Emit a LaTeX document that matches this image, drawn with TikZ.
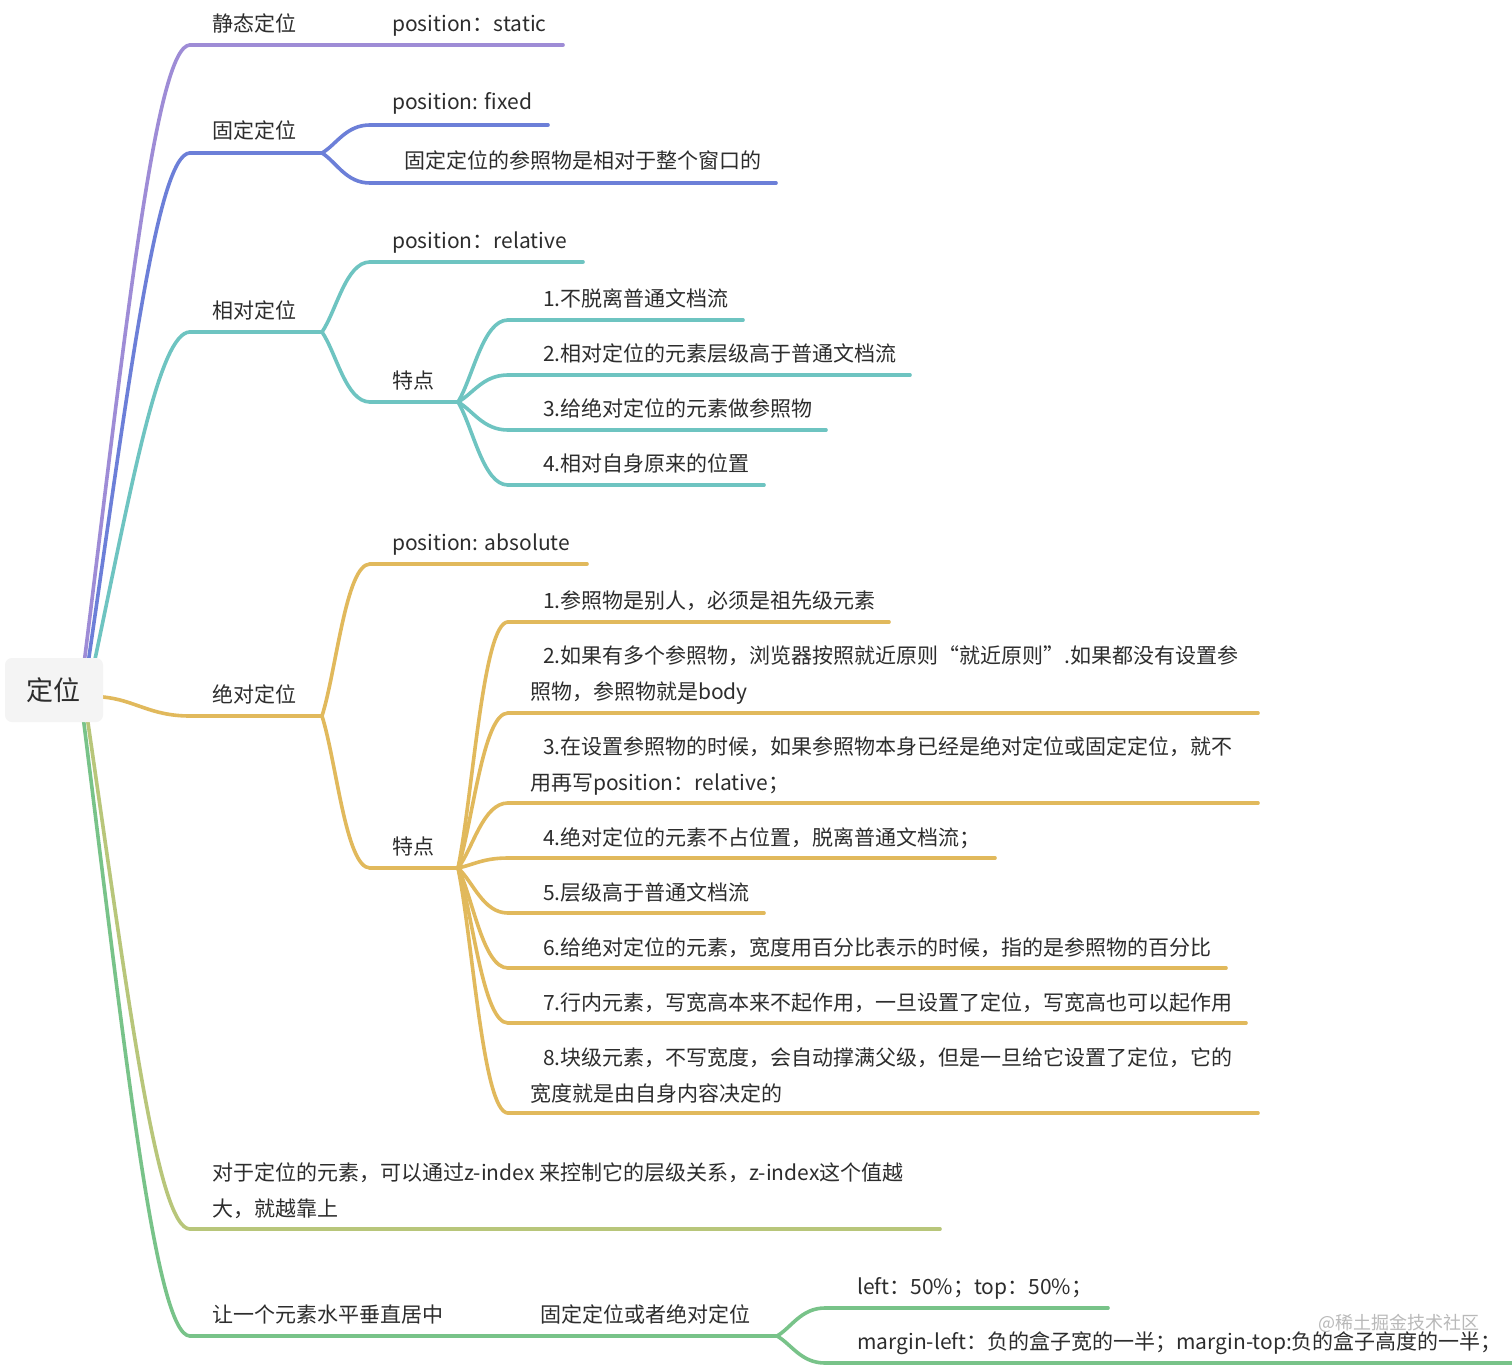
\documentclass[tikz,border=0pt]{standalone}
\usepackage{fontspec}
\setmainfont{Noto Sans CJK SC}
\usetikzlibrary{calc}
\definecolor{cPur}{RGB}{158,140,214}
\definecolor{cBlue}{RGB}{108,127,216}
\definecolor{cTeal}{RGB}{110,196,193}
\definecolor{cGold}{RGB}{225,185,92}
\definecolor{cOlive}{RGB}{184,198,122}
\definecolor{cGreen}{RGB}{120,195,137}
\definecolor{txt}{RGB}{45,45,45}
\definecolor{rootfill}{RGB}{244,244,244}
\definecolor{wmc}{RGB}{185,185,185}
\tikzset{
  branch/.style={line width=3.6pt, line cap=round},
  topic/.style={anchor=base west, inner sep=0pt, text=txt, font=\fontsize{21}{36}\selectfont, align=left},
  rootbox/.style={fill=rootfill, rounded corners=7pt, minimum width=98pt, minimum height=64pt, inner sep=0pt, text=txt, font=\fontsize{27}{30}\selectfont},
}
\newcommand{\mmul}[5]{%
  \coordinate (#1-l) at (#3,#5);
  \coordinate (#1-r) at (#4,#5);
  \draw[branch,#2] (#1-l) -- (#1-r);
}
\newcommand{\mmconn}[3]{%
  \draw[branch,#1] let \p1=(#2), \p2=(#3) in (\p1) .. controls ({\x1+0.3*(\x2-\x1)},{\y1+0.3*(\y2-\y1)}) and ({\x2-0.5*(\x2-\x1)},{\y2}) .. (\p2);
}
\newcommand{\mmtop}[3]{%
  \draw[branch,#1] let \p1=(#2), \p2=(#3) in (\p1) .. controls ({\x1+0.40*(\x2-\x1)},{\y1+0.55*(\y2-\y1)}) and ({\x2-0.32*(\x2-\x1)},{\y2}) .. (\p2);
}
\begin{document}
\begin{tikzpicture}[x=1pt,y=-1pt]
\useasboundingbox (0,0) rectangle (1512,1367);
\fill[white] (0,0) rectangle (1512,1367);

% root anchor coordinates
\coordinate (r1) at (84,664);
\coordinate (r2) at (88,664);
\coordinate (r3) at (94,664);
\coordinate (r4) at (103,697);
\coordinate (r5) at (87,716);
\coordinate (r6) at (83,716);

% underlines
\mmul{n1}{cPur}{190}{320}{45}
\mmul{n1a}{cPur}{370}{563}{45}
\mmul{n2}{cBlue}{190}{322}{153}
\mmul{n2a}{cBlue}{370}{548}{125}
\mmul{n2b}{cBlue}{370}{776}{183}
\mmul{n3}{cTeal}{190}{322}{332}
\mmul{n3a}{cTeal}{370}{583}{262}
\mmul{n3b}{cTeal}{370}{458}{402}
\mmul{n3b1}{cTeal}{508}{743}{320}
\mmul{n3b2}{cTeal}{508}{910}{375}
\mmul{n3b3}{cTeal}{508}{826}{430}
\mmul{n3b4}{cTeal}{508}{764}{485}
\mmul{n4}{cGold}{190}{322}{716}
\mmul{n4a}{cGold}{370}{587}{564}
\mmul{n4b}{cGold}{370}{458}{868}
\mmul{n4b1}{cGold}{508}{889}{622}
\mmul{n4b2}{cGold}{508}{1258}{713}
\mmul{n4b3}{cGold}{508}{1258}{803}
\mmul{n4b4}{cGold}{508}{995}{858}
\mmul{n4b5}{cGold}{508}{764}{913}
\mmul{n4b6}{cGold}{508}{1226}{968}
\mmul{n4b7}{cGold}{508}{1246}{1023}
\mmul{n4b8}{cGold}{508}{1258}{1113}
\mmul{n5}{cOlive}{190}{940}{1229}
\mmul{n6}{cGreen}{190}{520}{1336}
\mmul{n6a}{cGreen}{520}{777}{1336}
\mmul{n6a1}{cGreen}{825}{1108}{1308}
\mmul{n6a2}{cGreen}{825}{1530}{1363}

% top-level connectors
\mmtop{cPur}{r1}{n1-l}
\mmtop{cBlue}{r2}{n2-l}
\mmtop{cTeal}{r3}{n3-l}
\draw[branch,cGold] (r4) .. controls (135,700) and (150,716) .. (n4-l);
\mmtop{cOlive}{r5}{n5-l}
\mmtop{cGreen}{r6}{n6-l}

% second-level connectors
\draw[branch,cPur] (n1-r) -- (n1a-l);
\mmconn{cBlue}{n2-r}{n2a-l}
\mmconn{cBlue}{n2-r}{n2b-l}
\mmconn{cTeal}{n3-r}{n3a-l}
\mmconn{cTeal}{n3-r}{n3b-l}
\mmconn{cTeal}{n3b-r}{n3b1-l}
\mmconn{cTeal}{n3b-r}{n3b2-l}
\mmconn{cTeal}{n3b-r}{n3b3-l}
\mmconn{cTeal}{n3b-r}{n3b4-l}
\mmconn{cGold}{n4-r}{n4a-l}
\mmconn{cGold}{n4-r}{n4b-l}
\mmconn{cGold}{n4b-r}{n4b1-l}
\mmconn{cGold}{n4b-r}{n4b2-l}
\mmconn{cGold}{n4b-r}{n4b3-l}
\mmconn{cGold}{n4b-r}{n4b4-l}
\mmconn{cGold}{n4b-r}{n4b5-l}
\mmconn{cGold}{n4b-r}{n4b6-l}
\mmconn{cGold}{n4b-r}{n4b7-l}
\mmconn{cGold}{n4b-r}{n4b8-l}
\draw[branch,cGreen] (n6-r) -- (n6a-l);
\mmconn{cGreen}{n6a-r}{n6a1-l}
\mmconn{cGreen}{n6a-r}{n6a2-l}

% root
\node[rootbox] (root) at (54,690) {定位};

% texts (multi-line nodes: base = last line baseline)
\node[topic] (n1) at (212,32) {静态定位};
\node[topic] (n1a) at (392,32) {position：static};
\node[topic] (n2) at (212,139) {固定定位};
\node[topic] (n2a) at (392,110) {position: fixed};
\node[topic] (n2b) at (404,169) {固定定位的参照物是相对于整个窗口的};
\node[topic] (n3) at (212,318) {相对定位};
\node[topic] (n3a) at (392,248) {position：relative};
\node[topic] (n3b) at (392,388) {特点};
\node[topic] (n3b1) at (543,306) {1.不脱离普通文档流};
\node[topic] (n3b2) at (543,361) {2.相对定位的元素层级高于普通文档流};
\node[topic] (n3b3) at (543,416) {3.给绝对定位的元素做参照物};
\node[topic] (n3b4) at (543,471) {4.相对自身原来的位置};
\node[topic] (n4) at (212,702) {绝对定位};
\node[topic] (n4a) at (392,550) {position: absolute};
\node[topic] (n4b) at (392,854) {特点};
\node[topic] (n4b1) at (543,608) {1.参照物是别人，必须是祖先级元素};
\node[topic] (n4b2) at (530,699) {\hspace*{13pt}2.如果有多个参照物，浏览器按照就近原则“就近原则”.如果都没有设置参\\照物，参照物就是body};
\node[topic] (n4b3) at (530,790) {\hspace*{13pt}3.在设置参照物的时候，如果参照物本身已经是绝对定位或固定定位，就不\\用再写position：relative；};
\node[topic] (n4b4) at (543,845) {4.绝对定位的元素不占位置，脱离普通文档流；};
\node[topic] (n4b5) at (543,900) {5.层级高于普通文档流};
\node[topic] (n4b6) at (543,955) {6.给绝对定位的元素，宽度用百分比表示的时候，指的是参照物的百分比};
\node[topic] (n4b7) at (543,1010) {7.行内元素，写宽高本来不起作用，一旦设置了定位，写宽高也可以起作用};
\node[topic] (n4b8) at (530,1101) {\hspace*{13pt}8.块级元素，不写宽度，会自动撑满父级，但是一旦给它设置了定位，它的\\宽度就是由自身内容决定的};
\node[topic] (n5) at (212,1216) {对于定位的元素，可以通过z-index 来控制它的层级关系，z-index这个值越\\大，就越靠上};
\node[topic] (n6) at (212,1322) {让一个元素水平垂直居中};
\node[topic] (n6a) at (540,1322) {固定定位或者绝对定位};
\node[topic] (n6a1) at (857,1294) {left：50\%；top：50\%；};
\node[topic] (n6a2) at (857,1349) {margin-left：负的盒子宽的一半；margin-top:负的盒子高度的一半；};

% watermark
\node[anchor=west, inner sep=0pt, text=wmc, font=\fontsize{18}{18}\selectfont] (wm) at (1318,1323) {@稀土掘金技术社区};
\end{tikzpicture}
\end{document}
